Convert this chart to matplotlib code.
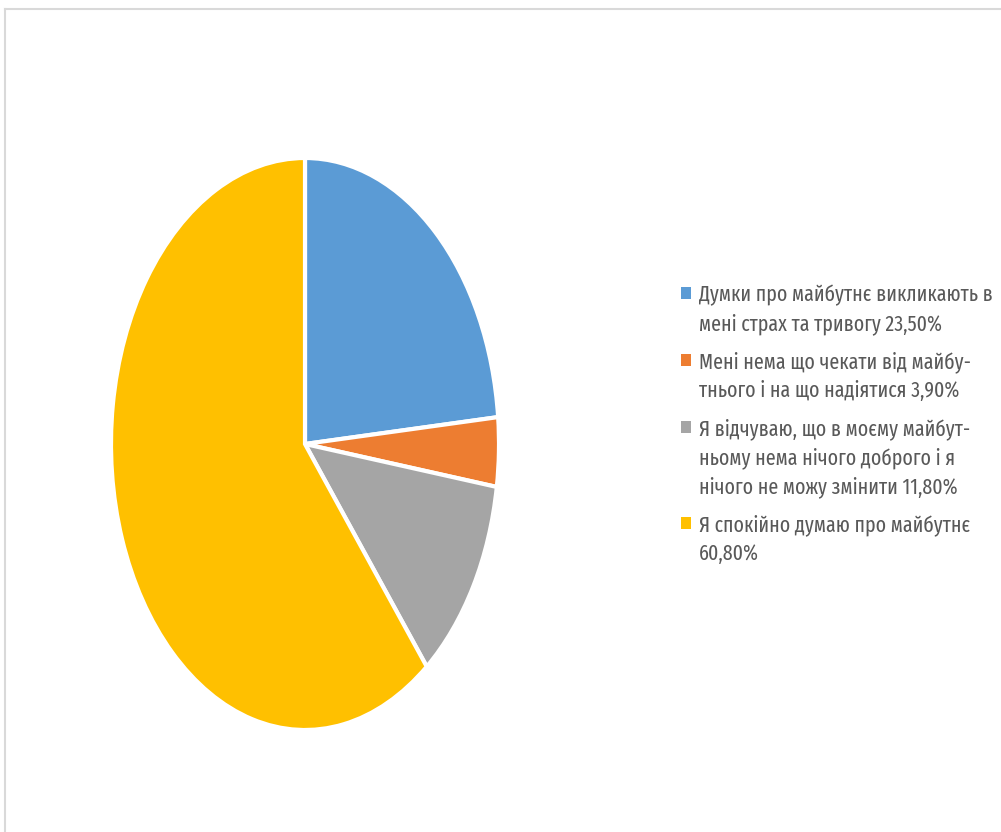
import matplotlib
matplotlib.use("Agg")
import matplotlib.pyplot as plt
from matplotlib.lines import Line2D
from matplotlib.patches import Rectangle

labels = [
    "Думки про майбутнє викликають в\nмені страх та тривогу 23,50%",
    "Мені нема що чекати від майбу-\nтнього і на що надіятися 3,90%",
    "Я відчуваю, що в моєму майбут-\nньому нема нічого доброго і я\nнічого не можу змінити 11,80%",
    "Я спокійно думаю про майбутнє\n60,80%",
]
values = [23.5, 3.9, 11.8, 60.8]
colors = ["#5b9bd5", "#ed7d31", "#a5a5a5", "#ffc000"]

FONT = ["Fira Sans Extra Condensed", "Roboto Condensed", "Lato"]

W, H = 1001, 832
fig = plt.figure(figsize=(W / 100, H / 100), dpi=100)
fig.patch.set_facecolor("white")

# chart area frame (top and left edges visible)
fig.add_artist(Line2D([5 / W, 5 / W], [0, 1 - 8.5 / H], color="#d9d9d9", lw=1.5))
fig.add_artist(Line2D([5 / W, 1], [1 - 8.5 / H, 1 - 8.5 / H], color="#d9d9d9", lw=1.5))

# pie axes sized to give the stretched ellipse
x0, x1, y0, y1 = 111, 499, 158, 730
ax = fig.add_axes([x0 / W, 1 - y1 / H, (x1 - x0) / W, (y1 - y0) / H])
ax.pie(values, colors=colors, startangle=90, counterclock=False,
       wedgeprops=dict(edgecolor="white", linewidth=3))
ax.set_xlim(-1.0, 1.0)
ax.set_ylim(-1.0, 1.0)
ax.set_aspect("auto")
ax.axis("off")

# legend: square key aligned with the first line of each wrapped label
line_px = 29.0      # pitch between wrapped lines
gap_px = 9.0        # extra space between entries
fs = 15.5
y_center = 293.0    # centre of the first legend line
for lab, col in zip(labels, colors):
    nlines = lab.count("\n") + 1
    fig.add_artist(Rectangle(((681) / W, 1 - (y_center + 6) / H), 10 / W, 12 / H,
                             facecolor=col, edgecolor="none",
                             transform=fig.transFigure))
    for k, ln in enumerate(lab.split("\n")):
        fig.text(699 / W, 1 - (y_center + k * line_px) / H, ln,
                 ha="left", va="center_baseline", family=FONT, size=fs,
                 color="#595959")
    y_center += nlines * line_px + gap_px

fig.savefig("out.png", dpi=100, facecolor="white")
